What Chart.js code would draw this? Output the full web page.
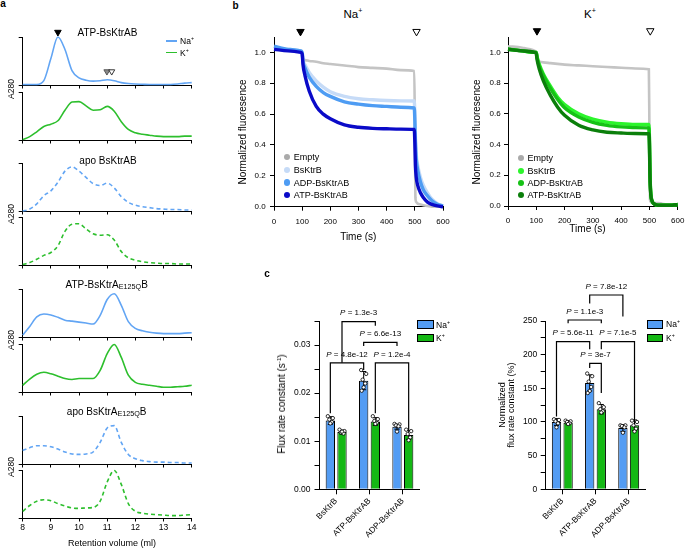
<!DOCTYPE html>
<html>
<head>
<meta charset="utf-8">
<script src="https://cdn.jsdelivr.net/npm/chart.js@4.4.0/dist/chart.umd.min.js"></script>
<style>
  html, body { margin: 0; padding: 0; background: #fff; }
  body { width: 685px; height: 550px; position: relative; overflow: hidden;
         font-family: "Liberation Sans", Arial, Helvetica, sans-serif; color: #000; }
  canvas { position: absolute; }
  .t { position: absolute; white-space: nowrap; line-height: 1; }
  .t sup { font-size: 62%; line-height: 0; }
  .t sub { font-size: 72%; line-height: 0; vertical-align: -0.2em; }
  .box { position: absolute; box-sizing: border-box; }
</style>
</head>
<body>
<script>
const FONT = '"Liberation Sans", Arial, Helvetica, sans-serif';

// ---- panel a: SEC traces, normalised A280 ----
const retention = [8, 8.25, 8.5, 8.75, 9, 9.25, 9.5, 9.75, 10, 10.25, 10.5, 10.75, 11,
                   11.25, 11.5, 11.75, 12, 12.25, 12.5, 12.75, 13, 13.25, 13.5, 13.75, 14];
const atpNa = [0.01, 0.01, 0.01, 0.09, 0.55, 1.0, 0.74, 0.3, 0.15, 0.1, 0.08, 0.09, 0.11,
               0.09, 0.05, 0.03, 0.02, 0.015, 0.01, 0.01, 0.01, 0.01, 0.02, 0.04, 0.05];
const atpK = [0.01, 0.07, 0.17, 0.28, 0.33, 0.4, 0.62, 0.79, 0.8, 0.71, 0.62, 0.63, 0.7,
              0.6, 0.38, 0.22, 0.15, 0.12, 0.1, 0.08, 0.07, 0.07, 0.07, 0.08, 0.08];
const apoNa = [0, 0.04, 0.15, 0.32, 0.42, 0.6, 0.83, 0.92, 0.83, 0.7, 0.57, 0.53, 0.58,
               0.48, 0.3, 0.18, 0.12, 0.09, 0.07, 0.05, 0.04, 0.03, 0.03, 0.02, 0.02];
const apoK = [0.01, 0.05, 0.12, 0.2, 0.26, 0.4, 0.7, 0.85, 0.86, 0.75, 0.65, 0.62, 0.63,
              0.52, 0.28, 0.15, 0.1, 0.07, 0.05, 0.04, 0.03, 0.03, 0.02, 0.02, 0.02];
const mutAtpNa = [0.04, 0.22, 0.42, 0.48, 0.46, 0.41, 0.35, 0.33, 0.31, 0.29, 0.27, 0.45, 0.78,
                  0.9, 0.66, 0.32, 0.18, 0.13, 0.1, 0.08, 0.07, 0.07, 0.07, 0.08, 0.09];
const mutAtpK = [0.14, 0.27, 0.37, 0.41, 0.38, 0.33, 0.28, 0.26, 0.28, 0.28, 0.28, 0.45, 0.8,
                 0.99, 0.72, 0.35, 0.2, 0.16, 0.14, 0.12, 0.1, 0.1, 0.11, 0.12, 0.14];
const mutApoNa = [0.28, 0.34, 0.38, 0.38, 0.36, 0.31, 0.25, 0.21, 0.2, 0.21, 0.25, 0.45, 0.75,
                  0.8, 0.45, 0.2, 0.11, 0.07, 0.05, 0.04, 0.04, 0.03, 0.03, 0.02, 0.02];
const mutApoK = [0.14, 0.26, 0.35, 0.38, 0.36, 0.3, 0.25, 0.21, 0.2, 0.21, 0.22, 0.35, 0.75,
                 0.99, 0.7, 0.3, 0.14, 0.1, 0.08, 0.07, 0.06, 0.05, 0.05, 0.06, 0.07];
// fraction markers (x in ml, y in normalised A280)
const aArrows = [
  {x: 9.25, y: 1.1, fill: '#000', stroke: '#000', r: 3.8},
  {x: 10.99, y: 0.28, fill: '#8a8a8a', stroke: '#555', r: 3.5},
  {x: 11.16, y: 0.28, fill: 'rgba(255,255,255,0.6)', stroke: '#333', r: 3.5}
];

// ---- panel b: fluorescence flux assay ----
const timeS = [0, 50, 95, 100, 103, 110, 125, 150, 175, 200, 250, 300, 350, 400, 450, 498,
               500, 502, 505, 510, 520, 530, 545, 560, 580, 600];
const fluxLabels = ['Empty', 'BsKtrB', 'ADP-BsKtrAB', 'ATP-BsKtrAB'];
const naEmpty = [1.03, 1.02, 1.01, 1.0, 0.955, 0.95, 0.945, 0.94, 0.93, 0.925, 0.915, 0.905, 0.9,
                 0.895, 0.885, 0.88, 0.55, 0.06, 0.03, 0.02, 0.015, 0.01, 0.005, 0, 0, 0];
const naBsKtrB = [1.03, 1.02, 1.01, 1.0, 0.95, 0.92, 0.87, 0.815, 0.775, 0.745, 0.715, 0.7, 0.693,
                  0.688, 0.686, 0.685, 0.6, 0.46, 0.34, 0.27, 0.19, 0.14, 0.09, 0.05, 0.02, 0.005];
const naAdp = [1.04, 1.02, 1.01, 1.0, 0.94, 0.9, 0.84, 0.78, 0.74, 0.715, 0.68, 0.665, 0.655,
               0.65, 0.645, 0.64, 0.56, 0.42, 0.31, 0.24, 0.16, 0.11, 0.07, 0.04, 0.015, 0.005];
const naAtp = [1.02, 1.01, 1.0, 0.99, 0.92, 0.85, 0.75, 0.65, 0.6, 0.57, 0.53, 0.515, 0.508,
               0.505, 0.503, 0.5, 0.42, 0.27, 0.19, 0.14, 0.09, 0.06, 0.03, 0.015, 0.005, 0];
const kEmpty = [1.04, 1.03, 1.01, 1.0, 0.95, 0.94, 0.935, 0.93, 0.925, 0.92, 0.915, 0.91, 0.905,
                0.9, 0.895, 0.89, 0.5, 0.04, 0.025, 0.02, 0.02, 0.02, 0.015, 0.01, 0.01, 0.01];
const kBsKtrB = [1.02, 1.01, 1.0, 1.0, 0.97, 0.925, 0.86, 0.78, 0.71, 0.66, 0.6, 0.565, 0.545,
                 0.535, 0.53, 0.53, 0.45, 0.22, 0.08, 0.03, 0.01, 0.005, 0.005, 0.005, 0.005, 0.01];
const kAdp = [1.02, 1.01, 1.0, 1.0, 0.965, 0.915, 0.85, 0.765, 0.695, 0.64, 0.58, 0.545, 0.525,
              0.515, 0.51, 0.508, 0.43, 0.2, 0.08, 0.03, 0.01, 0.005, 0.005, 0.005, 0.005, 0.01];
const kAtp = [1.02, 1.01, 1.0, 0.99, 0.95, 0.895, 0.815, 0.72, 0.645, 0.59, 0.525, 0.495, 0.48,
              0.475, 0.472, 0.47, 0.4, 0.18, 0.07, 0.03, 0.01, 0.005, 0.005, 0.005, 0.005, 0.01];
// ion addition (filled) and CCCP addition (open) markers
const naArrows = [{x: 94, y: 1.135, fill: '#000', stroke: '#000', r: 4.3},
                  {x: 506, y: 1.135, fill: '#fff', stroke: '#000', r: 4.3}];
const kArrows = [{x: 102.5, y: 1.14, fill: '#000', stroke: '#000', r: 4.3},
                 {x: 503, y: 1.14, fill: '#fff', stroke: '#000', r: 4.3}];

// ---- panel c: flux rate constants ----
const barCats = ['BsKtrB', 'ATP-BsKtrAB', 'ADP-BsKtrAB'];
const rateNa = [0.0143, 0.0226, 0.0130];
const rateK = [0.0119, 0.0141, 0.0113];
const rateNaSd = [0.0008, 0.0019, 0.0005];
const rateKSd = [0.0004, 0.0008, 0.0009];
const rateNaPts = [[0.0152, 0.0148, 0.0145, 0.0140, 0.0137],
                   [0.0248, 0.0240, 0.0228, 0.0220, 0.0212, 0.0205],
                   [0.0136, 0.0135, 0.0133, 0.0131, 0.0120]];
const rateKPts = [[0.0124, 0.0121, 0.0118, 0.0116, 0.0120],
                  [0.0152, 0.0146, 0.0142, 0.0138, 0.0136],
                  [0.0124, 0.0121, 0.0115, 0.0108, 0.0102]];
const normNa = [100, 158, 91];
const normK = [99, 119, 95];
const normNaSd = [5, 12, 5];
const normKSd = [3, 7, 8];
const normNaPts = [[104, 103, 101, 98, 92], [172, 168, 160, 152, 146, 143], [95, 95, 94, 92, 84]];
const normKPts = [[102, 101, 100, 98, 97], [128, 122, 119, 116, 114], [102, 100, 95, 90, 86]];
// from/to = [category, series(0 Na, 1 K)], heights in axis units
const rateBrackets = [
  {from: [0, 0], to: [1, 0], top: 0.0263, ends: [0.0158, 0.0248], p: '4.8e-12'},
  {from: [0, 1], to: [1, 1], top: 0.03486, ends: [0.0263, 0.0340], p: '1.3e-3'},
  {from: [1, 0], to: [2, 0], top: 0.03056, ends: [0.0298, 0.0298], p: '6.6e-13'},
  {from: [1, 1], to: [2, 1], top: 0.0263, ends: [0.0158, 0.0123], p: '1.2e-4'}
];
const normBrackets = [
  {from: [0, 0], to: [1, 0], top: 219.3, ends: [108, 208], p: '5.6e-11'},
  {from: [0, 1], to: [1, 1], top: 251.5, ends: [246.5, 246.5], p: '1.1e-3'},
  {from: [1, 1], to: [2, 1], top: 219.3, ends: [208, 103], p: '7.1e-5'},
  {from: [1, 0], to: [1, 1], top: 187, ends: [180, 143], p: '3e-7'},
  {from: [1, 0], to: [2, 0], top: 288.6, ends: [276, 256.5], p: '7.8e-12'}
];

const BLUE = '#62a5f4', GREEN = '#2dbf2d';
const NA_COLORS = ['#c4c4c4', '#c6dbf7', '#4e9cf3', '#0a0ac8'];
const K_COLORS = ['#c4c4c4', '#2cf52c', '#16c216', '#0b7f0b'];
const BAR_NA = '#539cf3', BAR_K = '#14b814';
const JITTER = [-2.5, 2.5, -1, 1.5, 0, -2];

// ---------- helpers ----------
function addText(html, x, y, opt = {}) {
  const d = document.createElement('div');
  d.className = 't';
  d.innerHTML = html;
  d.style.left = x + 'px';
  d.style.top = y + 'px';
  d.style.fontSize = (opt.size || 9) + 'px';
  if (opt.bold) d.style.fontWeight = 'bold';
  const ax = opt.align === 'left' ? '0' : '-50%';
  d.style.transform = `translate(${ax}, -50%)` + (opt.rotate ? ` rotate(${opt.rotate}deg)` : '');
  document.body.appendChild(d);
}

function addBox(x, y, w, h, css) {
  const d = document.createElement('div');
  d.className = 'box';
  Object.assign(d.style, {left: x + 'px', top: y + 'px', width: w + 'px', height: h + 'px'}, css);
  document.body.appendChild(d);
}

function makeCanvas(box) {
  const c = document.createElement('canvas');
  c.width = box.w;
  c.height = box.h;
  c.style.left = box.x + 'px';
  c.style.top = box.y + 'px';
  c.style.width = box.w + 'px';
  c.style.height = box.h + 'px';
  document.body.appendChild(c);
  return c;
}

// canvas box + wanted plot area (page px) -> padding and axis sizes
function fit(box, area) {
  return {
    padding: {left: 0, top: area.t - box.y, right: box.x + box.w - area.r, bottom: 0},
    yw: area.l - box.x,
    xh: box.y + box.h - area.b
  };
}

function axis(o) {
  return {
    type: o.type || 'linear',
    min: o.min, max: o.max,
    offset: o.offset || false,
    border: {display: true, color: '#000', width: 1},
    grid: {display: true, drawOnChartArea: false, drawTicks: true, offset: false,
           tickLength: o.tickLength || 4, color: '#000', lineWidth: 1},
    ticks: Object.assign({color: '#000', font: {family: FONT, size: o.size || 8},
                          padding: o.pad == null ? 3 : o.pad, autoSkip: false,
                          stepSize: o.step, includeBounds: false}, o.ticks || {}),
    afterFit: o.afterFit
  };
}

const BASE = {
  responsive: false,
  animation: false,
  events: [],
  plugins: {legend: {display: false}, tooltip: {enabled: false}}
};

// downward triangles placed through the chart's scales (may sit above the plot area)
function arrowPlugin(list) {
  return {
    id: 'arrows',
    afterDatasetsDraw(chart) {
      const ctx = chart.ctx, xs = chart.scales.x, ys = chart.scales.y;
      ctx.save();
      ctx.lineWidth = 1;
      list.forEach(a => {
        const px = xs.getPixelForValue(a.x), py = ys.getPixelForValue(a.y);
        ctx.beginPath();
        ctx.moveTo(px - a.r * 0.866, py - a.r / 2);
        ctx.lineTo(px + a.r * 0.866, py - a.r / 2);
        ctx.lineTo(px, py + a.r);
        ctx.closePath();
        ctx.fillStyle = a.fill;
        ctx.fill();
        ctx.strokeStyle = a.stroke;
        ctx.stroke();
      });
      ctx.restore();
    }
  };
}

// ---------- panel a ----------
const aPanels = [
  {values: atpNa, color: BLUE, dash: [], top: 37, bottom: 85},
  {values: atpK, color: GREEN, dash: [], top: 92, bottom: 140},
  {values: apoNa, color: BLUE, dash: [4, 3], top: 163, bottom: 211},
  {values: apoK, color: GREEN, dash: [4, 3], top: 217, bottom: 265},
  {values: mutAtpNa, color: BLUE, dash: [], top: 289, bottom: 337},
  {values: mutAtpK, color: GREEN, dash: [], top: 344, bottom: 392},
  {values: mutApoNa, color: BLUE, dash: [4, 3], top: 416, bottom: 464},
  {values: mutApoK, color: GREEN, dash: [4, 3], top: 470, bottom: 518}
];

aPanels.forEach((p, i) => {
  const last = i === aPanels.length - 1;
  const box = {x: 0, y: p.top - 12, w: 210, h: p.bottom - p.top + 12 + (last ? 20 : 8)};
  const f = fit(box, {l: 22.7, t: p.top, r: 191.7, b: p.bottom});
  new Chart(makeCanvas(box), {
    type: 'line',
    data: {datasets: [{
      data: retention.map((x, k) => ({x, y: p.values[k]})),
      borderColor: p.color, borderWidth: 1.6, borderDash: p.dash, pointRadius: 0,
      cubicInterpolationMode: 'monotone', clip: false
    }]},
    options: Object.assign({}, BASE, {
      layout: {padding: f.padding},
      scales: {
        x: axis({min: 8, max: 14, step: 1, size: 8.5, pad: 1, tickLength: 3.5,
                 ticks: last ? {} : {callback: () => ''},
                 afterFit: s => { s.height = f.xh; }}),
        y: axis({min: 0, max: 1, step: 1, ticks: {callback: () => ''},
                 afterFit: s => { s.width = f.yw; }})
      }
    }),
    plugins: i === 0 ? [arrowPlugin(aArrows)] : []
  });
});

addText('a', 3, 4, {size: 10, bold: true});
addText('ATP-BsKtrAB', 107.5, 33.3, {size: 10});
addText('apo BsKtrAB', 108, 160.7, {size: 10});
addText('ATP-BsKtrA<sub>E125Q</sub>B', 106.7, 285, {size: 10});
addText('apo BsKtrA<sub>E125Q</sub>B', 106.7, 411.7, {size: 10});
[88.5, 214, 340, 467].forEach(y => addText('A280', 10.5, y, {size: 8.5, rotate: -90}));
addText('Retention volume (ml)', 112, 543, {size: 9});
addBox(166, 40.2, 11, 1.6, {background: BLUE});
addBox(166, 51.7, 11, 1.6, {background: GREEN});
addText('Na<sup>+</sup>', 180, 41, {size: 8.5, align: 'left'});
addText('K<sup>+</sup>', 180, 52.5, {size: 8.5, align: 'left'});

// ---------- panel b ----------
function fluxChart(box, area, series, colors, arrows, xPad, yPad) {
  const f = fit(box, area);
  const datasets = series.map((vals, k) => ({
    data: timeS.map((x, j) => ({x, y: vals[j]})),
    borderColor: colors[k], borderWidth: k === 0 ? 2.6 : 3.4, pointRadius: 0,
    cubicInterpolationMode: 'monotone', clip: false, order: series.length - k
  }));
  new Chart(makeCanvas(box), {
    type: 'line',
    data: {datasets},
    options: Object.assign({}, BASE, {
      layout: {padding: f.padding},
      scales: {
        x: axis({min: 0, max: 600, step: 100, pad: xPad, afterFit: s => { s.height = f.xh; }}),
        y: axis({min: 0, max: 1.1, step: 0.2, pad: yPad,
                 ticks: {callback: v => v.toFixed(1)},
                 afterFit: s => { s.width = f.yw; }})
      }
    }),
    plugins: [arrowPlugin(arrows)]
  });
}

fluxChart({x: 232, y: 22, w: 230, h: 210}, {l: 274, t: 37, r: 443, b: 206.7},
          [naEmpty, naBsKtrB, naAdp, naAtp], NA_COLORS, naArrows, 6, 4.3);
fluxChart({x: 470, y: 22, w: 230, h: 210}, {l: 508, t: 37, r: 677.7, b: 206},
          [kEmpty, kBsKtrB, kAdp, kAtp], K_COLORS, kArrows, 5.5, 3.3);

addText('b', 235.5, 5.5, {size: 10, bold: true});
addText('Na<sup>+</sup>', 353, 15, {size: 11.5});
addText('K<sup>+</sup>', 590, 15, {size: 11.5});
addText('Normalized fluoresence', 243.3, 131.7, {size: 10, rotate: -90});
addText('Normalized fluoresence', 476.7, 131.7, {size: 10, rotate: -90});
addText('Time (s)', 358.3, 237.3, {size: 10});
addText('Time (s)', 587.5, 228.5, {size: 10});

function fluxLegend(cx, tx, ys, colors) {
  fluxLabels.forEach((name, k) => {
    addBox(cx - 3.2, ys[k] - 3.2, 6.4, 6.4, {background: colors[k], borderRadius: '50%'});
    addText(name, tx, ys[k], {size: 9, align: 'left'});
  });
}
fluxLegend(287, 293.8, [157, 170, 182.5, 195], ['#aaaaaa', NA_COLORS[1], NA_COLORS[2], NA_COLORS[3]]);
fluxLegend(521, 527.5, [158, 170.7, 183, 195.3], ['#aaaaaa', K_COLORS[1], K_COLORS[2], K_COLORS[3]]);

// ---------- panel c ----------
function drawP(ctx, text, cx, cy) {
  const italic = 'italic 8px ' + FONT, normal = '8px ' + FONT;
  ctx.font = italic;
  const wP = ctx.measureText('P').width;
  ctx.font = normal;
  const rest = ' = ' + text;
  const wR = ctx.measureText(rest).width;
  const x = cx - (wP + wR) / 2;
  ctx.fillStyle = '#000';
  ctx.textBaseline = 'middle';
  ctx.textAlign = 'left';
  ctx.font = italic;
  ctx.fillText('P', x, cy);
  ctx.font = normal;
  ctx.fillText(rest, x + wP, cy);
}

function barChart(box, area, cfg) {
  const f = fit(box, area);
  const extras = {
    id: 'barExtras',
    afterDatasetsDraw(chart) {
      const ctx = chart.ctx, ys = chart.scales.y;
      ctx.save();
      ctx.strokeStyle = '#000';
      [0, 1].forEach(di => {
        const meta = chart.getDatasetMeta(di);
        meta.data.forEach((bar, j) => {
          const m = cfg.means[di][j], sd = cfg.sd[di][j];
          const yt = ys.getPixelForValue(m + sd), yb = ys.getPixelForValue(m - sd);
          ctx.lineWidth = 1;
          ctx.beginPath();
          ctx.moveTo(bar.x, yt); ctx.lineTo(bar.x, yb);
          ctx.moveTo(bar.x - 2.5, yt); ctx.lineTo(bar.x + 2.5, yt);
          ctx.moveTo(bar.x - 2.5, yb); ctx.lineTo(bar.x + 2.5, yb);
          ctx.stroke();
          cfg.pts[di][j].forEach((v, k) => {
            ctx.beginPath();
            ctx.arc(bar.x + JITTER[k % JITTER.length], ys.getPixelForValue(v), 1.7, 0, Math.PI * 2);
            ctx.fillStyle = '#fff';
            ctx.fill();
            ctx.lineWidth = 0.8;
            ctx.stroke();
          });
        });
      });
      ctx.lineWidth = 1.2;
      cfg.brackets.forEach(b => {
        const xa = chart.getDatasetMeta(b.from[1]).data[b.from[0]].x;
        const xb = chart.getDatasetMeta(b.to[1]).data[b.to[0]].x;
        const yt = ys.getPixelForValue(b.top);
        ctx.beginPath();
        ctx.moveTo(xa, ys.getPixelForValue(b.ends[0]));
        ctx.lineTo(xa, yt);
        ctx.lineTo(xb, yt);
        ctx.lineTo(xb, ys.getPixelForValue(b.ends[1]));
        ctx.stroke();
        drawP(ctx, b.p, (xa + xb) / 2, yt - 8.5);
      });
      ctx.restore();
    }
  };
  const bar = (data, color) => ({
    data, backgroundColor: color, borderColor: '#000', borderWidth: 1,
    categoryPercentage: 0.7, barPercentage: 0.8
  });
  new Chart(makeCanvas(box), {
    type: 'bar',
    data: {labels: barCats, datasets: [bar(cfg.means[0], BAR_NA), bar(cfg.means[1], BAR_K)]},
    options: Object.assign({}, BASE, {
      layout: {padding: f.padding},
      scales: {
        x: axis({type: 'category', offset: true, tickLength: 5, pad: 2, size: 8.3,
                 ticks: {minRotation: 45, maxRotation: 45},
                 afterFit: s => { s.height = f.xh; }}),
        y: axis({min: 0, max: cfg.max, step: cfg.step, tickLength: 5, size: 8.5, pad: cfg.pad,
                 ticks: {includeBounds: true, callback: v => {
                   const n = v / cfg.major;
                   return Math.abs(n - Math.round(n)) < 1e-6 ? cfg.fmt(v) : '';
                 }},
                 afterFit: s => { s.width = f.yw; }})
      }
    }),
    plugins: [extras]
  });
}

barChart({x: 280, y: 295, w: 150, h: 255}, {l: 319.5, t: 321, r: 419.5, b: 489.3}, {
  means: [rateNa, rateK], sd: [rateNaSd, rateKSd], pts: [rateNaPts, rateKPts],
  brackets: rateBrackets, max: 0.035, step: 0.005, major: 0.01, pad: 4,
  fmt: v => v.toFixed(2)
});
barChart({x: 500, y: 270, w: 160, h: 280}, {l: 545.7, t: 321, r: 645.3, b: 489.3}, {
  means: [normNa, normK], sd: [normNaSd, normKSd], pts: [normNaPts, normKPts],
  brackets: normBrackets, max: 250, step: 25, major: 50, pad: 3.4,
  fmt: v => String(Math.round(v))
});

addText('c', 267, 274, {size: 10, bold: true});
addText('Flux rate constant (s<sup>-1</sup>)', 282, 404, {size: 10, rotate: -90});
addText('Normalized', 501.5, 405, {size: 9, rotate: -90});
addText('flux rate constant (%)', 510.5, 405, {size: 9, rotate: -90});

function barLegend(x, y1, y2, tx) {
  addBox(x, y1 - 4.3, 16.5, 8.6, {background: BAR_NA, border: '1px solid #000'});
  addBox(x, y2 - 4.3, 16.5, 8.6, {background: BAR_K, border: '1px solid #000'});
  addText('Na<sup>+</sup>', tx, y1, {size: 8.5, align: 'left'});
  addText('K<sup>+</sup>', tx, y2, {size: 8.5, align: 'left'});
}
barLegend(417, 324.5, 337.8, 436);
barLegend(646.7, 324.3, 338.2, 666);
</script>
</body>
</html>
